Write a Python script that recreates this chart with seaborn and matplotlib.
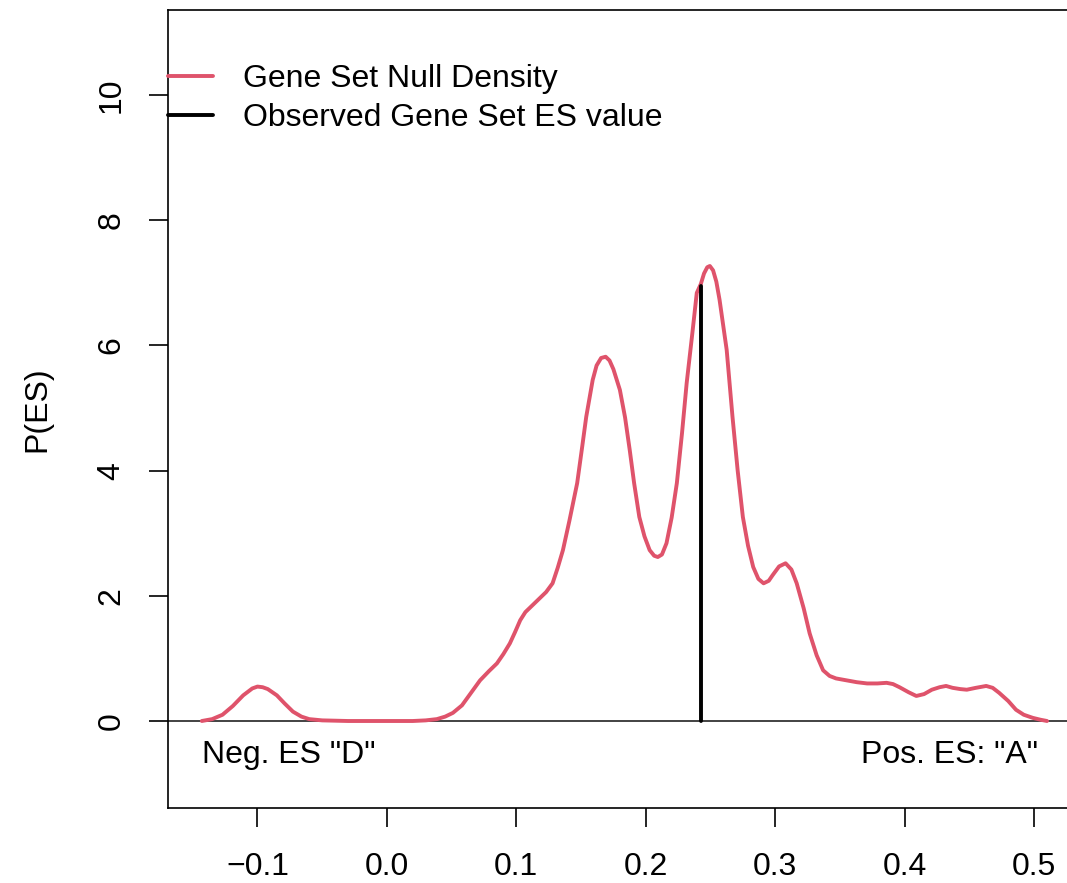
import matplotlib
matplotlib.use('Agg')
import matplotlib.pyplot as plt
import seaborn as sns

# null density of the gene set ES
es_x = [-0.143, -0.135, -0.127, -0.119, -0.111, -0.104, -0.100, -0.096, -0.092, -0.085, -0.079,
        -0.0726, -0.066, -0.06, -0.05, -0.03, 0.0, 0.02, 0.03, 0.0386, 0.045,
        0.051, 0.058, 0.065, 0.072, 0.079, 0.085, 0.09, 0.095, 0.099, 0.103,
        0.107, 0.110, 0.114, 0.118, 0.123, 0.128, 0.132, 0.136, 0.141, 0.147,
        0.151, 0.154, 0.159, 0.162, 0.1655, 0.169, 0.172, 0.175, 0.180, 0.184, 0.1876, 0.191,
        0.195, 0.199, 0.203, 0.2065, 0.2093, 0.2125, 0.216, 0.220, 0.224, 0.228, 0.2316,
        0.236, 0.2394, 0.2425, 0.245, 0.2475, 0.2495, 0.252, 0.2545, 0.257, 0.2625, 0.267, 0.271,
        0.275, 0.279, 0.283, 0.287, 0.291, 0.295, 0.298, 0.303, 0.308, 0.3125,
        0.3166, 0.322, 0.3266, 0.332, 0.337, 0.342, 0.347, 0.355, 0.363, 0.371,
        0.379, 0.386, 0.391, 0.396, 0.403, 0.409, 0.415, 0.421, 0.427, 0.432,
        0.437, 0.443, 0.448, 0.455, 0.463, 0.468, 0.473, 0.480, 0.486, 0.492,
        0.499, 0.505, 0.510]
es_dens = [0.0, 0.03, 0.10, 0.24, 0.41, 0.52, 0.55, 0.54, 0.51, 0.41, 0.28,
           0.15, 0.07, 0.03, 0.01, 0.0, 0.0, 0.0, 0.01, 0.03, 0.07,
           0.13, 0.25, 0.45, 0.65, 0.80, 0.92, 1.07, 1.24, 1.42, 1.61,
           1.74, 1.80, 1.88, 1.96, 2.06, 2.20, 2.45, 2.73, 3.20, 3.80,
           4.40, 4.86, 5.45, 5.68, 5.80, 5.82, 5.76, 5.62, 5.29, 4.85, 4.33, 3.80,
           3.26, 2.95, 2.73, 2.64, 2.62, 2.66, 2.84, 3.25, 3.80, 4.60, 5.40,
           6.20, 6.84, 6.98, 7.15, 7.25, 7.27, 7.20, 7.02, 6.73, 5.93, 4.86, 4.00,
           3.26, 2.80, 2.46, 2.27, 2.20, 2.24, 2.33, 2.47, 2.52, 2.42,
           2.20, 1.80, 1.40, 1.05, 0.81, 0.72, 0.68, 0.65, 0.62, 0.60,
           0.60, 0.61, 0.59, 0.54, 0.46, 0.40, 0.43, 0.50, 0.54, 0.56,
           0.53, 0.51, 0.50, 0.53, 0.56, 0.53, 0.45, 0.32, 0.18, 0.10,
           0.05, 0.02, 0.0]

obs_es = 0.2425
obs_height = 6.95

x_ticks = [-0.1, 0.0, 0.1, 0.2, 0.3, 0.4, 0.5]
y_ticks = [0, 2, 4, 6, 8, 10]

sns.set_style('ticks')
plt.rcParams['font.family'] = ['Liberation Sans', 'DejaVu Sans']
plt.rcParams['text.color'] = 'black'
plt.rcParams['axes.labelcolor'] = 'black'
plt.rcParams['xtick.color'] = 'black'
plt.rcParams['ytick.color'] = 'black'

fs = 23

fig = plt.figure(figsize=(10.67, 8.83), dpi=100)
ax = fig.add_axes([168 / 1067, 75 / 883, 914 / 1067, 798 / 883])

ax.axhline(0, color='#222222', lw=1.2, zorder=1)
sns.lineplot(x=es_x, y=es_dens, sort=False, estimator=None, color='#DF536B',
             lw=2.8, ax=ax, label='Gene Set Null Density', zorder=3)
sns.lineplot(x=[obs_es, obs_es], y=[0, obs_height], sort=False, estimator=None,
             color='black', lw=2.8, ax=ax, label='Observed Gene Set ES value', zorder=4)

ax.set_xlim(-0.1691, 0.537)
ax.set_ylim(-1.39, 11.36)
ax.set_xticks(x_ticks)
ax.set_xticklabels(['\u22120.1', '0.0', '0.1', '0.2', '0.3', '0.4', '0.5'])
ax.set_yticks(y_ticks)
ax.set_yticklabels([str(v) for v in y_ticks], rotation=90, va='center')
ax.tick_params(axis='both', length=14, width=1.2, labelsize=fs, color='black')
ax.tick_params(axis='x', pad=18)
ax.tick_params(axis='y', pad=16)
for sp in ax.spines.values():
    sp.set_linewidth(1.2)
    sp.set_color('black')

ax.set_xlabel('')
ax.set_ylabel('P(ES)', fontsize=fs, labelpad=32)

ax.text(es_x[0], -0.55, 'Neg. ES "D"', fontsize=fs, ha='left', va='center')
ax.text(0.503, -0.55, 'Pos. ES: "A"', fontsize=fs, ha='right', va='center')

leg = ax.legend(loc='upper left', bbox_to_anchor=(0, 0.932), frameon=False, fontsize=fs,
                handlelength=1.41, handletextpad=0.94, borderpad=0, borderaxespad=0,
                labelspacing=0.27)

fig.savefig('out.png', dpi=100)
